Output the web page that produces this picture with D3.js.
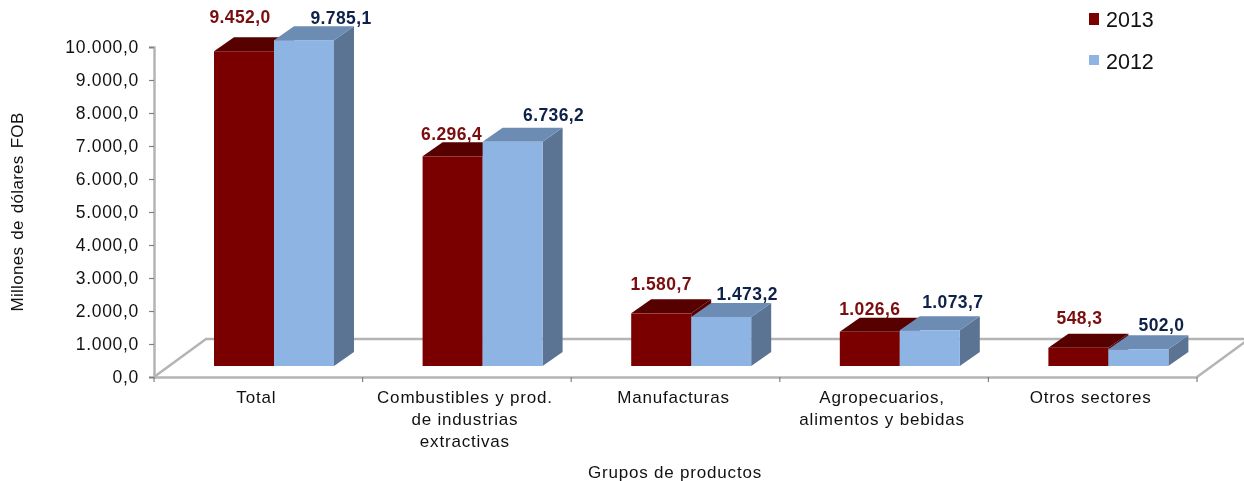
<!DOCTYPE html>
<html>
<head>
<meta charset="utf-8">
<script src="https://cdn.jsdelivr.net/npm/d3@7"></script>
<style>
  html, body { margin: 0; padding: 0; background: #fff; }
  svg { display: block; font-family: "Liberation Sans", Arial, sans-serif; }
  .soft { filter: blur(0.45px); }
</style>
</head>
<body>
<div id="chart"></div>
<script>
const categories = ['Total', 'Combustibles y prod.|de industrias|extractivas', 'Manufacturas', 'Agropecuarios,|alimentos y bebidas', 'Otros sectores'];
const values2013 = [9452.0, 6296.4, 1580.7, 1026.6, 548.3];
const values2012 = [9785.1, 6736.2, 1473.2, 1073.7, 502.0];
const labels2013 = ['9.452,0', '6.296,4', '1.580,7', '1.026,6', '548,3'];
const labels2012 = ['9.785,1', '6.736,2', '1.473,2', '1.073,7', '502,0'];
const yTicks = [0, 1000, 2000, 3000, 4000, 5000, 6000, 7000, 8000, 9000, 10000];

const width = 1244;
const height = 481;
const plot = { left: 154, right: 1197, top: 47, bottom: 377 };
const floorDepth = { x: 52, y: -38 };
const barDepth = { x: 20, y: -14 };
const baseY = 366;
const barW = 60;

const colors = {
  c2013: { front: '#7a0000', top: '#560000', side: '#560000', text: '#7a0d0d' },
  c2012: { front: '#8db4e3', top: '#6d8cb3', side: '#5b7494', text: '#0e2148' },
};

const svg = d3.select('#chart').append('svg').attr('width', width).attr('height', height);
const chart = svg.append('g').attr('class', 'soft');

const x = d3.scaleBand().domain(d3.range(categories.length)).range([plot.left, plot.right]);
const y = d3.scaleLinear().domain([0, 10000]).range([plot.bottom, plot.top]);
const barH = d3.scaleLinear().domain([0, 10000]).range([0, 333]);
const fmt = (d) => d3.format(',.1f')(d).replace(/,/g, '#').replace('.', ',').replace(/#/g, '.');

// floor
const floorColor = '#b4b4b4';
chart.append('path')
  .attr('d', `M${plot.left},${plot.bottom}L${plot.left + floorDepth.x},${plot.bottom + floorDepth.y}L${width + 4},${plot.bottom + floorDepth.y}`)
  .attr('fill', 'none').attr('stroke', floorColor).attr('stroke-width', 2.5);
chart.append('path')
  .attr('d', `M${plot.right},${plot.bottom}L${plot.right + floorDepth.x},${plot.bottom + floorDepth.y}`)
  .attr('fill', 'none').attr('stroke', floorColor).attr('stroke-width', 2.5);

// axes
const yAxis = chart.append('g').attr('transform', `translate(${plot.left},0)`)
  .call(d3.axisLeft(y).tickValues(yTicks).tickSize(5).tickFormat(fmt));
yAxis.select('.domain').attr('stroke', floorColor).attr('stroke-width', 2.5);
yAxis.selectAll('.tick line').attr('stroke', '#808080').attr('stroke-width', 1.2);
yAxis.selectAll('.tick text').attr('x', -15).attr('y', -0.5).attr('font-size', 17.5).attr('letter-spacing', 0.7)
  .attr('fill', '#111').attr('font-family', '"Liberation Sans", Arial, sans-serif');

const xAxis = chart.append('g').attr('transform', `translate(0,${plot.bottom})`)
  .call(d3.axisBottom(x).tickSize(0).tickFormat(''));
xAxis.select('.domain').attr('stroke', floorColor).attr('stroke-width', 2.5);
chart.append('g').selectAll('line').data(d3.range(categories.length + 1)).join('line')
  .attr('x1', (d) => plot.left + d * x.bandwidth()).attr('x2', (d) => plot.left + d * x.bandwidth())
  .attr('y1', plot.bottom).attr('y2', plot.bottom + 5)
  .attr('stroke', '#808080').attr('stroke-width', 1.2);

function drawBar(i, value, offset, c) {
  const x0 = x(i) + 60 + offset;
  const h = barH(value);
  const top = baseY - h;
  const g = chart.append('g');
  g.append('path')
    .attr('d', `M${x0 + barW},${baseY}L${x0 + barW + barDepth.x},${baseY + barDepth.y}L${x0 + barW + barDepth.x},${top + barDepth.y}L${x0 + barW},${top}Z`)
    .attr('fill', c.side);
  g.append('path')
    .attr('d', `M${x0},${top}L${x0 + barDepth.x},${top + barDepth.y}L${x0 + barW + barDepth.x},${top + barDepth.y}L${x0 + barW},${top}Z`)
    .attr('fill', c.top);
  g.append('rect').attr('x', x0).attr('y', top).attr('width', barW).attr('height', h).attr('fill', c.front);
}

categories.forEach((_, i) => {
  drawBar(i, values2013[i], 0, colors.c2013);
  drawBar(i, values2012[i], barW, colors.c2012);
});

// value labels, nudged by hand like the original
const dx2013 = [26, 29, 30, 30, 31];
const dy2013 = [-28, -16, -23, -17, -24];
const dx2012 = [127, 131, 116, 113, 113];
const dy2012 = [-16, -21, -17, -22, -18];
categories.forEach((_, i) => {
  const x0 = x(i) + 60;
  chart.append('text').attr('x', x0 + dx2013[i]).attr('y', baseY - barH(values2013[i]) + dy2013[i])
    .attr('text-anchor', 'middle').attr('font-size', 17.5).attr('letter-spacing', 0.4).attr('font-weight', 'bold').attr('fill', colors.c2013.text)
    .text(labels2013[i]);
  chart.append('text').attr('x', x0 + dx2012[i]).attr('y', baseY - barH(values2012[i]) + dy2012[i])
    .attr('text-anchor', 'middle').attr('font-size', 17.5).attr('letter-spacing', 0.4).attr('font-weight', 'bold').attr('fill', colors.c2012.text)
    .text(labels2012[i]);
});

// category labels
categories.forEach((name, i) => {
  const t = chart.append('text').attr('text-anchor', 'middle').attr('font-size', 17).attr('letter-spacing', 0.8).attr('fill', '#111');
  name.split('|').forEach((line, k) => {
    t.append('tspan').attr('x', x(i) + x.bandwidth() / 2 - 2).attr('y', 403 + k * 22).text(line);
  });
});

chart.append('text').attr('x', 675).attr('y', 478).attr('text-anchor', 'middle').attr('font-size', 17).attr('letter-spacing', 0.8).attr('fill', '#111')
  .text('Grupos de productos');
chart.append('text').attr('transform', 'translate(23,212) rotate(-90)').attr('text-anchor', 'middle')
  .attr('font-size', 17).attr('letter-spacing', 0.3).attr('word-spacing', 2).attr('fill', '#111').text('Millones de dólares FOB');

// legend
const legend = [{ label: '2013', color: colors.c2013.front, y: 20, h: 12 }, { label: '2012', color: colors.c2012.front, y: 62, h: 10 }];
legend.forEach((l) => {
  chart.append('rect').attr('x', 1089).attr('y', l.y - 7).attr('width', 10).attr('height', l.h).attr('fill', l.color);
  chart.append('text').attr('x', 1106).attr('y', l.y + 7).attr('font-size', 21.5).attr('fill', '#111').text(l.label);
});
</script>
</body>
</html>
